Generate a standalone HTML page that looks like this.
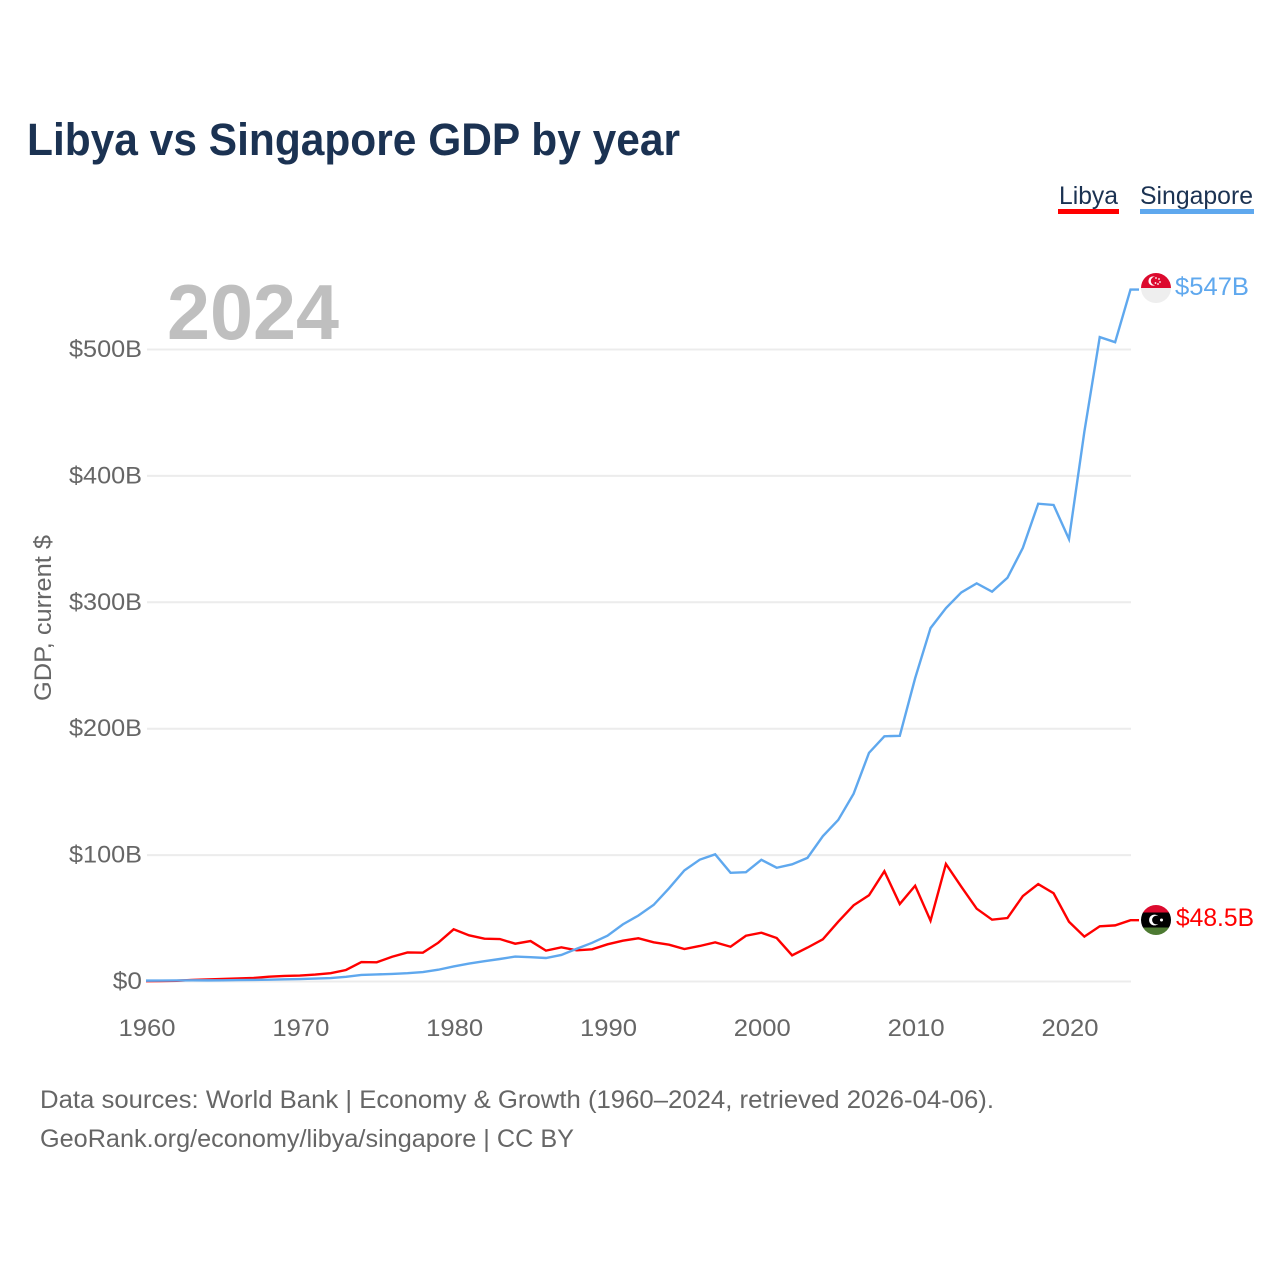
<!DOCTYPE html>
<html lang="en">
<head>
<meta charset="utf-8">
<title>Libya vs Singapore GDP by year</title>
<style>
html,body{margin:0;padding:0;background:#fff;}
svg{display:block;font-family:"Liberation Sans",sans-serif;}
</style>
</head>
<body>
<svg id="chart" width="1280" height="1280" viewBox="0 0 1280 1280" xmlns="http://www.w3.org/2000/svg">
<rect width="1280" height="1280" fill="#fff"/>
<text x="27" y="155" font-size="45" font-weight="700" fill="#1b3252" textLength="653" lengthAdjust="spacingAndGlyphs">Libya vs Singapore GDP by year</text>
<g>
<g>
<text x="1059" y="204" font-size="25" fill="#1b3252" textLength="59" lengthAdjust="spacingAndGlyphs">Libya</text>
<rect x="1058" y="209" width="61" height="5" fill="#ff0000"/>
</g>
<g>
<text x="1140" y="204" font-size="25" fill="#1b3252" textLength="113" lengthAdjust="spacingAndGlyphs">Singapore</text>
<rect x="1140" y="209" width="114" height="5" fill="#5fa8ee"/>
</g>
</g>
<g id="grid"></g>
<g id="yticks"></g>
<g id="xticks"></g>
<text x="167" y="339" font-size="78" font-weight="700" fill="#bfbfbf" textLength="172" lengthAdjust="spacingAndGlyphs">2024</text>
<text transform="translate(51,701) rotate(-90)" x="0" y="0" font-size="24" fill="#666" textLength="166" lengthAdjust="spacingAndGlyphs">GDP, current $</text>
<g id="lines"></g>
<defs>
<clipPath id="clip-sg"><circle cx="1156" cy="288" r="15"/></clipPath>
<clipPath id="clip-ly"><circle cx="1156" cy="920" r="15"/></clipPath>
</defs>
<g clip-path="url(#clip-sg)">
<rect x="1141" y="273" width="30" height="15" fill="#dc0a2e"/>
<rect x="1141" y="288" width="30" height="15" fill="#eeeeee"/>
<circle cx="1153" cy="281" r="4.6" fill="#fff"/>
<circle cx="1155" cy="281" r="4.2" fill="#dc0a2e"/>
<circle cx="1156" cy="278" r="0.9" fill="#fff"/>
<circle cx="1159" cy="279" r="0.9" fill="#fff"/>
<circle cx="1160" cy="282" r="0.9" fill="#fff"/>
<circle cx="1155.5" cy="283" r="0.9" fill="#fff"/>
<circle cx="1158" cy="284" r="0.9" fill="#fff"/>
</g>
<g clip-path="url(#clip-ly)">
<rect x="1141" y="905" width="30" height="8" fill="#dc0a2e"/>
<rect x="1141" y="912.5" width="30" height="15" fill="#000"/>
<rect x="1141" y="927.5" width="30" height="8" fill="#4d7a32"/>
<circle cx="1154.5" cy="920" r="5.4" fill="#fff"/>
<circle cx="1156.5" cy="920" r="4.4" fill="#000"/>
<circle cx="1161.5" cy="920" r="1.5" fill="#fff"/>
</g>
<text x="1175" y="295" font-size="25" fill="#5fa8ee" textLength="74" lengthAdjust="spacingAndGlyphs">$547B</text>
<text x="1176" y="926" font-size="25" fill="#ff0000" textLength="78" lengthAdjust="spacingAndGlyphs">$48.5B</text>
<text x="40" y="1108" font-size="25" fill="#666" textLength="954" lengthAdjust="spacingAndGlyphs">Data sources: World Bank | Economy &amp; Growth (1960–2024, retrieved 2026-04-06).</text>
<text x="40" y="1147" font-size="25" fill="#666" textLength="534" lengthAdjust="spacingAndGlyphs">GeoRank.org/economy/libya/singapore | CC BY</text>
</svg>
<script>
const firstYear = 1960;
const libyaValues = [0.3,0.4,0.6,1.2,1.6,2.0,2.4,2.8,3.8,4.4,4.7,5.5,6.6,9.1,15.4,15.2,19.6,23,22.8,30.7,41.3,36.5,33.9,33.6,29.9,32,24.4,27,24.7,25.5,29.4,32.3,34.2,31,29.1,25.7,28.1,31,27.5,36.2,38.6,34.4,20.7,26.8,33.4,47.3,60.3,68.2,87.2,61.3,75.8,48.1,93,75,57.6,48.9,50.2,67.6,77.1,69.8,47.3,35.5,43.7,44.4,48.5];
const singaporeValues = [0.7,0.76,0.83,0.92,0.89,0.97,1.1,1.2,1.4,1.7,1.9,2.3,2.7,3.7,5.2,5.6,6.0,6.6,7.5,9.3,11.9,14.2,16.1,17.8,19.7,19.2,18.6,21.0,25.9,30.6,36.2,45.2,52.1,60.6,73.7,87.9,96.4,100.6,86,86.5,96.3,90,92.7,97.8,115,127.8,148.6,180.9,194,194.4,240,279.6,295.4,307.8,315,308.4,319.4,343,378,377,350,435,509.8,505.8,547.4];
const yTickValues = [0,100,200,300,400,500];
const yTickLabels = ["$0","$100B","$200B","$300B","$400B","$500B"];
const xTickYears = [1960,1970,1980,1990,2000,2010,2020];

const NS = "http://www.w3.org/2000/svg";
function xScale(year){ return 146 + (year - 1960) * 15.383; }
function yScale(v){ return 981.5 - v * 1.264; }
function make(tag, attrs, parent){
  const el = document.createElementNS(NS, tag);
  for (const k in attrs) el.setAttribute(k, attrs[k]);
  parent.appendChild(el);
  return el;
}
const grid = document.getElementById("grid");
const yticks = document.getElementById("yticks");
const xticks = document.getElementById("xticks");
const lines = document.getElementById("lines");

yTickValues.forEach(function(v, i){
  const gl = make("line", {x1:147, x2:1131, y1:yScale(v), y2:yScale(v), stroke:"#ececec", "stroke-width":2}, grid);
  
  
  const label = yTickLabels[i];
  const t = make("text", {x:142, y:yScale(v)+7.5, "text-anchor":"end", "font-size":24, fill:"#666", textLength:label.length*14.6, lengthAdjust:"spacingAndGlyphs"}, yticks);
  t.textContent = label;
  
  
});
xTickYears.forEach(function(y){
  const t = make("text", {x:xScale(y)+1, y:1036, "text-anchor":"middle", "font-size":24, fill:"#666", textLength:57, lengthAdjust:"spacingAndGlyphs"}, xticks);
  t.textContent = String(y);
  
  
});
function linePoints(values){
  const pts = values.map(function(v, i){ return xScale(firstYear + i).toFixed(2) + "," + yScale(v).toFixed(2); });
  pts.push("1139," + yScale(values[values.length - 1]).toFixed(2));
  return pts.join(" ");
}
const libyaLine = make("polyline", {points:linePoints(libyaValues), fill:"none", stroke:"#ff0000", "stroke-width":2.4, "stroke-linejoin":"miter"}, lines);


const singaporeLine = make("polyline", {points:linePoints(singaporeValues), fill:"none", stroke:"#5fa8ee", "stroke-width":2.4, "stroke-linejoin":"miter"}, lines);


</script>
</body>
</html>
